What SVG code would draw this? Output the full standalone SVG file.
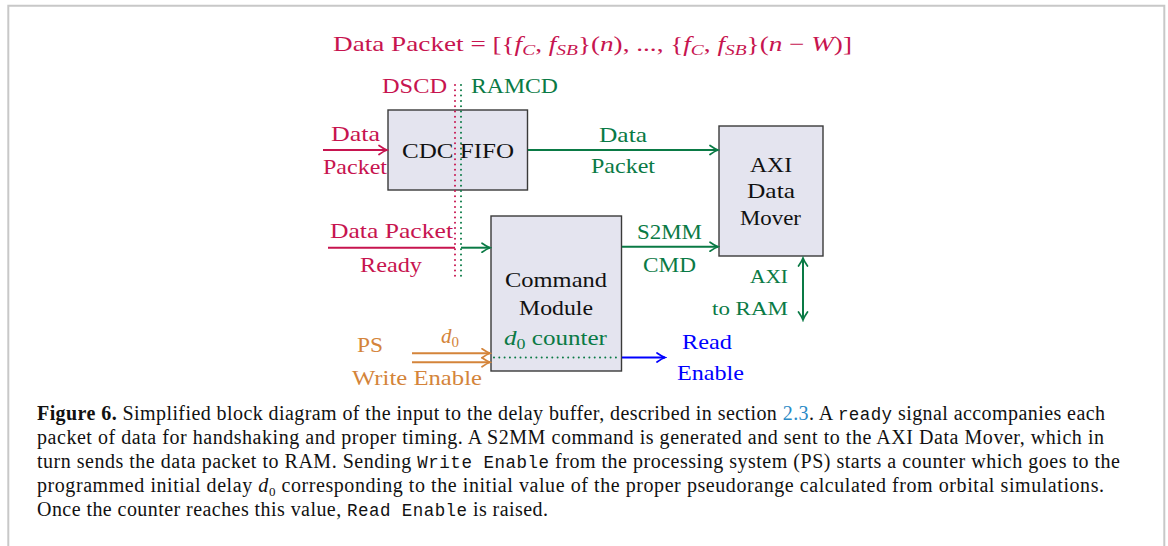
<svg xmlns="http://www.w3.org/2000/svg" width="1168" height="546" viewBox="0 0 1168 546">
<defs>
<style>
.t{font-family:"Liberation Serif","Times New Roman",serif;font-size:21px}
.r{fill:#c7144f}.g{fill:#0a7a45}.o{fill:#d4843a}.b{fill:#0000ff}.k{fill:#111}
.box{fill:#e4e4ef;stroke:#3a3a3a;stroke-width:1.4}
.cap{font-family:"Liberation Serif","Times New Roman",serif;font-size:20px;fill:#111}
.mono{font-family:"Liberation Mono","Courier New",monospace;font-size:17.5px}
.it{font-style:italic}
.ln{fill:none;stroke-width:2}
</style>
<marker id="ar" markerUnits="userSpaceOnUse" markerWidth="12" markerHeight="12" viewBox="-10 -6 12 12" refX="0" refY="0" orient="auto-start-reverse"><path d="M-8,-4.5 Q-3,-1 0,0 Q-3,1 -8,4.5" fill="none" stroke="#c7144f" stroke-width="1.7" stroke-linecap="round"/></marker>
<marker id="ag" markerUnits="userSpaceOnUse" markerWidth="12" markerHeight="12" viewBox="-10 -6 12 12" refX="0" refY="0" orient="auto-start-reverse"><path d="M-8,-4.5 Q-3,-1 0,0 Q-3,1 -8,4.5" fill="none" stroke="#0a7a45" stroke-width="1.7" stroke-linecap="round"/></marker>
<marker id="ao" markerUnits="userSpaceOnUse" markerWidth="12" markerHeight="12" viewBox="-10 -6 12 12" refX="0" refY="0" orient="auto-start-reverse"><path d="M-8,-4.5 Q-3,-1 0,0 Q-3,1 -8,4.5" fill="none" stroke="#d4843a" stroke-width="1.7" stroke-linecap="round"/></marker>
<marker id="ab" markerUnits="userSpaceOnUse" markerWidth="12" markerHeight="12" viewBox="-10 -6 12 12" refX="0" refY="0" orient="auto-start-reverse"><path d="M-8,-4.5 Q-3,-1 0,0 Q-3,1 -8,4.5" fill="none" stroke="#0000ff" stroke-width="1.7" stroke-linecap="round"/></marker>
</defs>
<rect width="1168" height="546" fill="#fff"/>
<path d="M8.3,546 V5.7 H1164.3 V546" fill="none" stroke="#c8c8c8" stroke-width="2"/>

<!-- Title formula -->
<g id="formula">
<text class="t r" x="333" y="51" textLength="519" lengthAdjust="spacingAndGlyphs">Data Packet = [{<tspan class="it">f</tspan><tspan class="it" font-size="15" dy="4">C</tspan><tspan dy="-4">, </tspan><tspan class="it">f</tspan><tspan class="it" font-size="15" dy="4">SB</tspan><tspan dy="-4">}(</tspan><tspan class="it">n</tspan>), ..., {<tspan class="it">f</tspan><tspan class="it" font-size="15" dy="4">C</tspan><tspan dy="-4">, </tspan><tspan class="it">f</tspan><tspan class="it" font-size="15" dy="4">SB</tspan><tspan dy="-4">}(</tspan><tspan class="it">n</tspan> − <tspan class="it">W</tspan>)]</text>
</g>

<g id="domains">
<text class="t r" x="382" y="93" textLength="65" lengthAdjust="spacingAndGlyphs">DSCD</text>
<text class="t g" x="471" y="93" textLength="87" lengthAdjust="spacingAndGlyphs">RAMCD</text>
</g>

<!-- Nodes -->
<g id="cdc-fifo">
<rect class="box" x="388" y="110" width="139.5" height="80"/>
<text class="t k" x="402" y="158" textLength="112" lengthAdjust="spacingAndGlyphs">CDC FIFO</text>
</g>
<g id="command-module">
<rect class="box" x="491" y="216" width="130.5" height="155"/>
<text class="t k" x="505" y="287" textLength="102" lengthAdjust="spacingAndGlyphs">Command</text>
<text class="t k" x="519" y="315" textLength="74" lengthAdjust="spacingAndGlyphs">Module</text>
<text class="t g" x="504" y="345" textLength="103" lengthAdjust="spacingAndGlyphs"><tspan class="it">d</tspan><tspan font-size="15" dy="4">0</tspan><tspan dy="-4"> counter</tspan></text>
</g>
<g id="axi-data-mover">
<rect class="box" x="719" y="126" width="104" height="130"/>
<text class="t k" x="750" y="172" textLength="42" lengthAdjust="spacingAndGlyphs">AXI</text>
<text class="t k" x="747" y="198" textLength="48" lengthAdjust="spacingAndGlyphs">Data</text>
<text class="t k" x="740" y="225" textLength="61" lengthAdjust="spacingAndGlyphs">Mover</text>
</g>

<!-- Connectors -->
<g id="connectors">
<line class="ln" x1="455" y1="85" x2="455" y2="281" stroke="#c7144f" stroke-dasharray="0 5.3" stroke-linecap="round"/>
<line class="ln" x1="461" y1="85" x2="461" y2="281" stroke="#0a7a45" stroke-dasharray="0 5.3" stroke-linecap="round"/>
<line class="ln" x1="323" y1="150" x2="387" y2="150" stroke="#c7144f" marker-end="url(#ar)"/>
<line class="ln" x1="528" y1="150" x2="718" y2="150" stroke="#0a7a45" marker-end="url(#ag)"/>
<line class="ln" x1="328" y1="247.7" x2="455" y2="247.7" stroke="#c7144f"/>
<line class="ln" x1="461" y1="247.7" x2="490" y2="247.7" stroke="#0a7a45" marker-end="url(#ag)"/>
<line class="ln" x1="622" y1="246.7" x2="718" y2="246.7" stroke="#0a7a45" marker-end="url(#ag)"/>
<line class="ln" x1="803" y1="258" x2="803" y2="320" stroke="#0a7a45" marker-start="url(#ag)" marker-end="url(#ag)"/>
<line class="ln" x1="412" y1="353.3" x2="490" y2="353.3" stroke="#d4843a" marker-end="url(#ao)"/>
<line class="ln" x1="412" y1="362.3" x2="490" y2="362.3" stroke="#d4843a" marker-end="url(#ao)"/>
<line class="ln" x1="494" y1="357.5" x2="620" y2="357.5" stroke="#0a7a45" stroke-dasharray="0 5.3" stroke-linecap="round"/>
<line class="ln" x1="622" y1="357.5" x2="665" y2="357.5" stroke="#0000ff" marker-end="url(#ab)"/>
</g>

<!-- Connector labels -->
<g id="labels">
<text class="t r" x="331" y="141" textLength="49" lengthAdjust="spacingAndGlyphs">Data</text>
<text class="t r" x="323" y="174" textLength="64" lengthAdjust="spacingAndGlyphs">Packet</text>
<text class="t g" x="599" y="142" textLength="48" lengthAdjust="spacingAndGlyphs">Data</text>
<text class="t g" x="591" y="173" textLength="64" lengthAdjust="spacingAndGlyphs">Packet</text>
<text class="t r" x="330" y="238" textLength="123" lengthAdjust="spacingAndGlyphs">Data Packet</text>
<text class="t r" x="360" y="272" textLength="62" lengthAdjust="spacingAndGlyphs">Ready</text>
<text class="t g" x="637" y="239" textLength="65" lengthAdjust="spacingAndGlyphs">S2MM</text>
<text class="t g" x="643" y="272" textLength="53" lengthAdjust="spacingAndGlyphs">CMD</text>
<text class="t g" x="750" y="283" textLength="38" lengthAdjust="spacingAndGlyphs" style="font-size:19px">AXI</text>
<text class="t g" x="712" y="315" textLength="76" lengthAdjust="spacingAndGlyphs" style="font-size:19px">to RAM</text>
<text class="t o" x="357" y="352" textLength="26" lengthAdjust="spacingAndGlyphs">PS</text>
<text class="t o" x="352" y="385" textLength="130" lengthAdjust="spacingAndGlyphs">Write Enable</text>
<text class="t o" x="441" y="343"><tspan class="it">d</tspan><tspan font-size="15" dy="4">0</tspan></text>
<text class="t b" x="682" y="349" textLength="50" lengthAdjust="spacingAndGlyphs">Read</text>
<text class="t b" x="677" y="380" textLength="67" lengthAdjust="spacingAndGlyphs">Enable</text>
</g>

<!-- Caption -->
<g id="caption">
<text class="cap" x="37" y="420" textLength="1068"><tspan font-weight="bold">Figure 6.</tspan> Simplified block diagram of the input to the delay buffer, described in section <tspan fill="#2a8ac6">2.3</tspan>. A <tspan class="mono">ready</tspan> signal accompanies each</text>
<text class="cap" x="37" y="444" textLength="1067">packet of data for handshaking and proper timing. A S2MM command is generated and sent to the AXI Data Mover, which in</text>
<text class="cap" x="37" y="468" textLength="1083">turn sends the data packet to RAM. Sending <tspan class="mono">Write Enable</tspan> from the processing system (PS) starts a counter which goes to the</text>
<text class="cap" x="37" y="492" textLength="1067">programmed initial delay <tspan class="it">d</tspan><tspan font-size="13" dy="4">0</tspan><tspan dy="-4"> corresponding to the initial value of the proper pseudorange calculated from orbital simulations.</tspan></text>
<text class="cap" x="37" y="516" textLength="511">Once the counter reaches this value, <tspan class="mono">Read Enable</tspan> is raised.</text>
</g>
</svg>
